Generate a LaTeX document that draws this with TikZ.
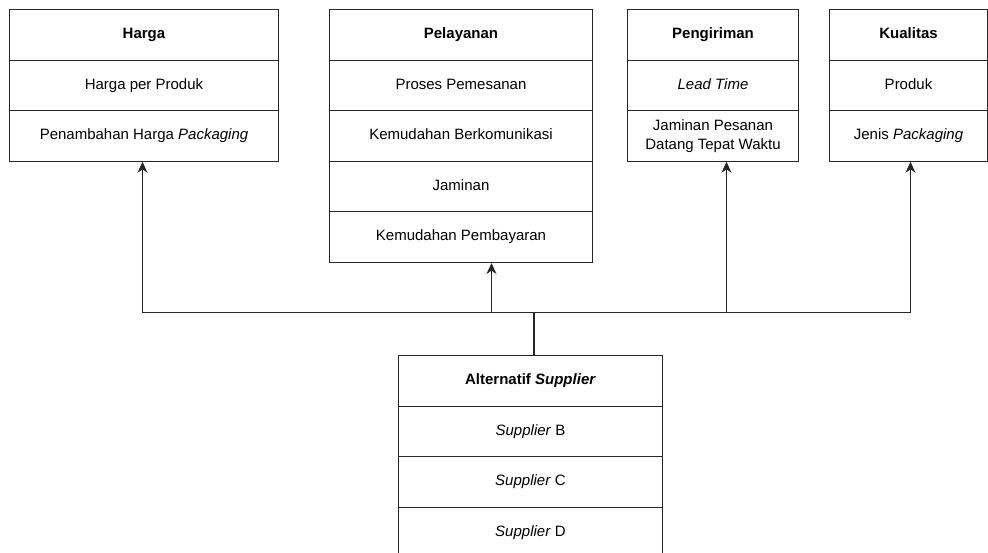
\documentclass[tikz,border=0pt]{standalone}
\usepackage{fontspec}
\setmainfont{Liberation Sans}
\usetikzlibrary{arrows.meta,calc}
\begin{document}
\begin{tikzpicture}[x=1pt,y=-1pt,
  cell/.style={draw=black!85, line width=1pt, minimum height=50.6pt, inner sep=0pt,
    anchor=north west, align=center, text=black, font=\fontsize{15}{19}\selectfont},
  one/.style={text height=10.8pt, text depth=3.2pt},
  head/.style={cell, one, font=\fontsize{15}{19}\selectfont\bfseries},
  conn/.style={line width=1pt, draw=black!85},
  arr/.style={conn, -{Stealth[length=11pt,width=10pt,inset=3.5pt]}}]
\useasboundingbox (0,0) rectangle (988,553);
\fill[white] (0,0) rectangle (988,553);
% Harga
\node[head, minimum width=269pt] (h0) at (9,9) {Harga};
\node[cell, one, minimum width=269pt] (h1) at (9,59.6) {Harga per Produk};
\node[cell, one, minimum width=269pt] (h2) at (9,110.2) {Penambahan Harga \textit{Packaging}};
% Pelayanan
\node[head, minimum width=263pt] (p0) at (329,9) {Pelayanan};
\node[cell, one, minimum width=263pt] (p1) at (329,59.6) {Proses Pemesanan};
\node[cell, one, minimum width=263pt] (p2) at (329,110.2) {Kemudahan Berkomunikasi};
\node[cell, one, minimum width=263pt] (p3) at (329,160.8) {Jaminan};
\node[cell, one, minimum width=263pt] (p4) at (329,211.4) {Kemudahan Pembayaran};
% Pengiriman
\node[head, minimum width=171pt] (g0) at (627,9) {Pengiriman};
\node[cell, one, minimum width=171pt] (g1) at (627,59.6) {\textit{Lead Time}};
\node[cell, minimum width=171pt] (g2) at (627,110.2) {Jaminan Pesanan\\Datang Tepat Waktu};
% Kualitas
\node[head, minimum width=158pt] (k0) at (829,9) {Kualitas};
\node[cell, one, minimum width=158pt] (k1) at (829,59.6) {Produk};
\node[cell, one, minimum width=158pt] (k2) at (829,110.2) {Jenis \textit{Packaging}};
% Alternatif Supplier
\node[head, minimum width=264pt] (a0) at (398,355) {Alternatif \textit{Supplier}};
\node[cell, one, minimum width=264pt] (a1) at (398,405.6) {\textit{Supplier} B};
\node[cell, one, minimum width=264pt] (a2) at (398,456.2) {\textit{Supplier} C};
\node[cell, one, minimum width=264pt] (a3) at (398,506.8) {\textit{Supplier} D};
% connectors
\coordinate (busy) at (0,313);
\coordinate (aH) at ($(h2.south)+(-1.5,0)$);
\coordinate (aP) at ($(p4.south)+(30.5,0)$);
\coordinate (aG) at ($(g2.south)+(13.5,0)$);
\coordinate (aK) at ($(k2.south)+(2,0)$);
\coordinate (aA) at ($(a0.north)+(3,0)$);
\draw[conn] (aH |- busy) -- (aK |- busy);
\draw[conn, line width=2pt] (aA) -- (aA |- busy);
\draw[arr] (aH |- busy) -- (aH);
\draw[arr] (aP |- busy) -- (aP);
\draw[arr] (aG |- busy) -- (aG);
\draw[arr] (aK |- busy) -- (aK);
\end{tikzpicture}
\end{document}
